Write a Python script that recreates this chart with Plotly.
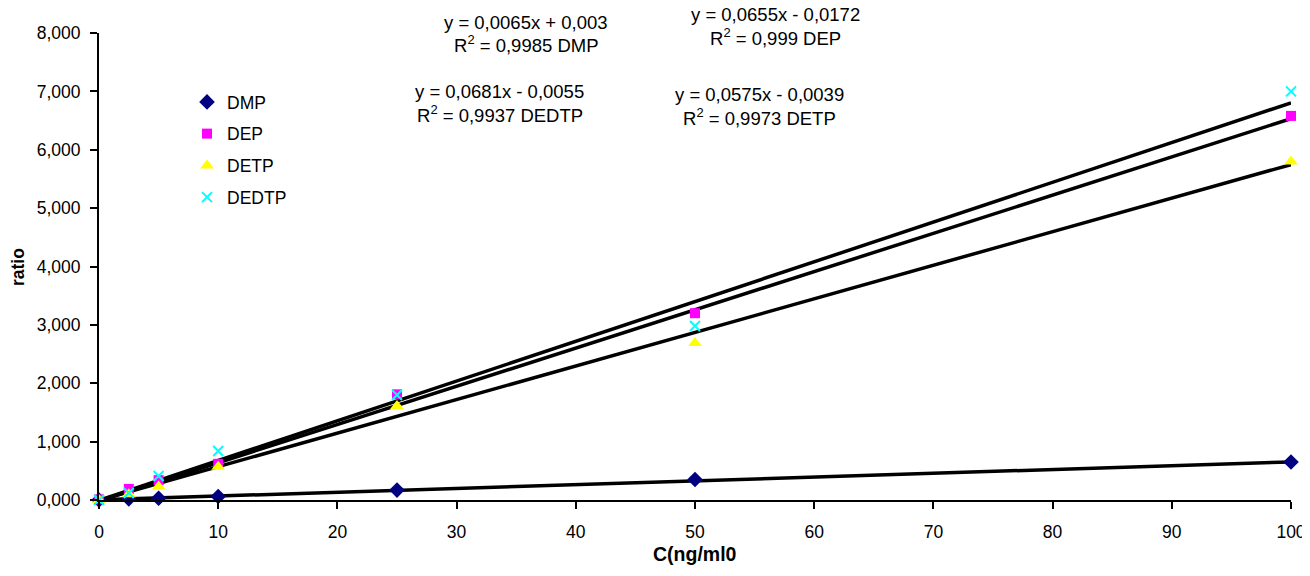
import plotly.graph_objects as go

conc = [0, 2.5, 5, 10, 25, 50, 100]
dmp = [0.00, 0.02, 0.03, 0.06, 0.17, 0.35, 0.65]
dep = [0.01, 0.19, 0.34, 0.62, 1.81, 3.20, 6.58]
detp = [0.00, 0.10, 0.23, 0.57, 1.61, 2.69, 5.80]
dedtp = [0.00, 0.12, 0.41, 0.84, 1.80, 2.98, 7.00]

names = ["DMP", "DEP", "DETP", "DEDTP"]
slopes = [0.0065, 0.0655, 0.0575, 0.0681]
intercepts = [0.003, -0.0172, -0.0039, -0.0055]
fit_x = [0, 100]

eq_lines = [
    "y = 0,0065x + 0,003",
    "y = 0,0655x - 0,0172",
    "y = 0,0575x - 0,0039",
    "y = 0,0681x - 0,0055",
]
r2_lines = [
    "R<sup>2</sup> = 0,9985 DMP",
    "R<sup>2</sup> = 0,999 DEP",
    "R<sup>2</sup> = 0,9973 DETP",
    "R<sup>2</sup> = 0,9937 DEDTP",
]
x_title = "C(ng/ml0"
y_title = "ratio"

FONT = "Liberation Sans, Arial, sans-serif"
fig = go.Figure()

# trend lines
for s, b in zip(slopes, intercepts):
    fig.add_trace(go.Scatter(x=fit_x, y=[s * xx + b for xx in fit_x], mode="lines",
                             line=dict(color="black", width=3.5), showlegend=False,
                             hoverinfo="skip", cliponaxis=False))

series = [dmp, dep, detp, dedtp]
markers = [
    dict(symbol="diamond", color="#000080", size=12),
    dict(symbol="square", color="#FF00FF", size=10),
    dict(symbol="triangle-up", color="#FFFF00", size=12),
    dict(symbol="x-thin", color="#00FFFF", size=10, line=dict(color="#00FFFF", width=2)),
]
for n, ys, m in zip(names, series, markers):
    fig.add_trace(go.Scatter(x=conc, y=ys, mode="markers", name=n, marker=m,
                             legendgroup=n, cliponaxis=False))

# page has an 8px body margin, so figure coords = page coords - 8
W, H = 1302, 560
L, R, T, B = 91, 19, 25, 68
pw, ph = W - L - R, H - T - B

def px(x):
    return (x - L) / pw

def py(y):
    return (H - B - y) / ph

# (x centre, y of equation line, y of R2 line) in figure pixels
ann_pos = [(518, 14, 36), (767, 7, 29), (751, 86, 109), (492, 84, 106)]
for eq, r2, (ax, ay1, ay2) in zip(eq_lines, r2_lines, ann_pos):
    for t, ay in ((eq, ay1), (r2, ay2)):
        fig.add_annotation(text=t, x=px(ax), y=py(ay), xref="paper", yref="paper",
                           showarrow=False, xanchor="center", yanchor="middle",
                           font=dict(size=18.5, color="black", family=FONT))

fig.add_annotation(text="<b>" + x_title + "</b>", x=px(687), y=py(546), xref="paper",
                   yref="paper", showarrow=False, xanchor="center", yanchor="middle",
                   font=dict(size=19.5, color="black", family=FONT))
fig.add_annotation(text="<b>" + y_title + "</b>", x=px(10), y=py(259), xref="paper",
                   yref="paper", showarrow=False, xanchor="center", yanchor="middle",
                   textangle=-90, font=dict(size=17.5, color="black", family=FONT))

fig.update_layout(
    width=W, height=H,
    margin=dict(l=L, r=R, t=T, b=B),
    paper_bgcolor="white", plot_bgcolor="white",
    separators=", ",
    font=dict(family=FONT, size=17.5, color="black"),
    legend=dict(x=px(179), y=py(76), xanchor="left", yanchor="top",
                bgcolor="rgba(0,0,0,0)", font=dict(size=17.5, family=FONT),
                tracegroupgap=6, itemwidth=30),
)
fig.update_xaxes(range=[0, 100], tickmode="linear", tick0=0, dtick=10,
                 showgrid=False, zeroline=False, showline=True, linecolor="black",
                 linewidth=2, ticks="outside", ticklen=7, tickwidth=1.5, tickcolor="black",
                 tickfont=dict(size=17.5), automargin=False, ticklabeloverflow="allow",
                 ticklabelstandoff=8)
fig.update_yaxes(range=[0, 8], tickmode="linear", tick0=0, dtick=1, tickformat=".3f",
                 showgrid=False, zeroline=False, showline=True, linecolor="black",
                 linewidth=2, ticks="outside", ticklen=7, tickwidth=1.5, tickcolor="black",
                 tickfont=dict(size=17.5), automargin=False, ticklabelstandoff=6)

fig.write_html("out.html")
